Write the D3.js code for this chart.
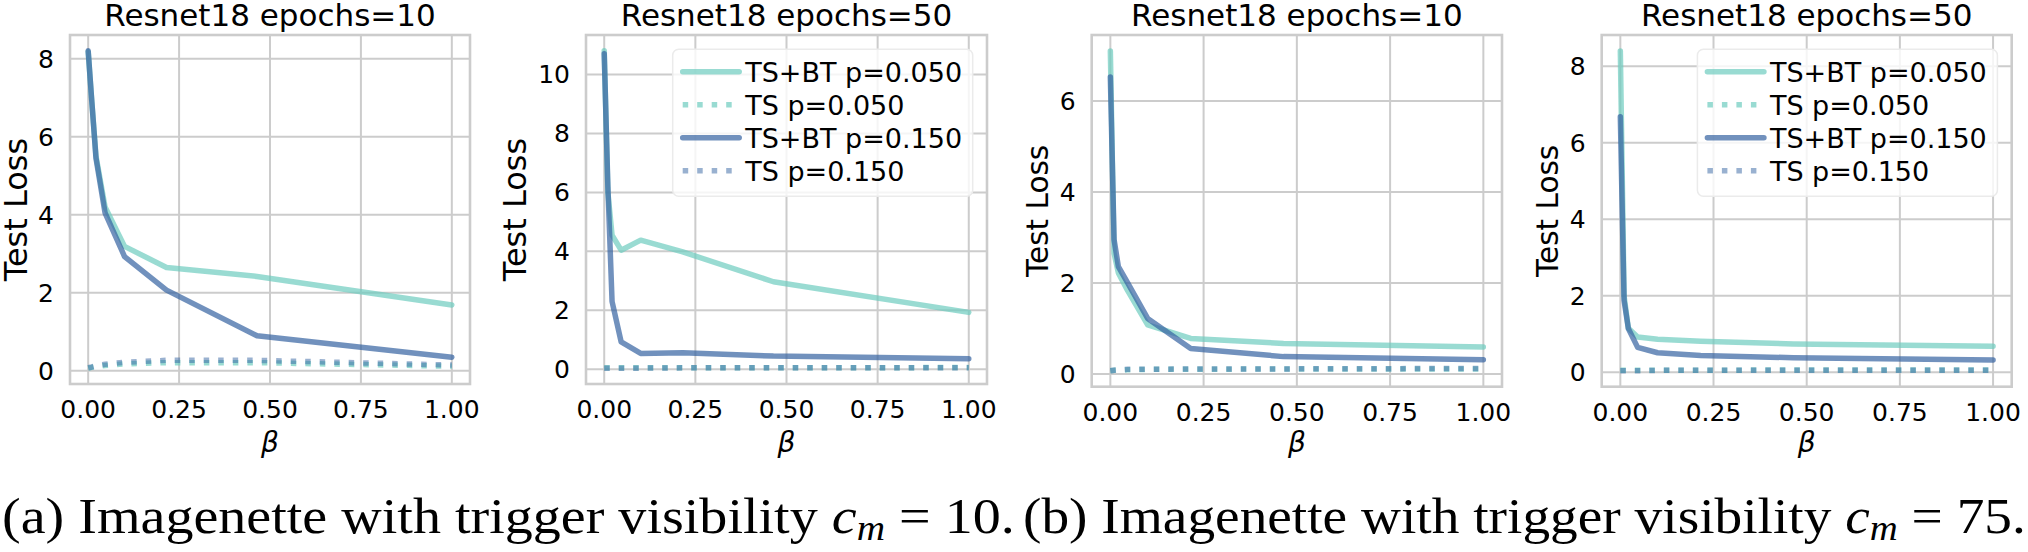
<!DOCTYPE html>
<html>
<head>
<meta charset="utf-8">
<script src="https://cdn.jsdelivr.net/npm/d3@7"></script>
<style>
  body { margin: 0; background: #fff; }
  svg text { font-family: "DejaVu Sans", sans-serif; fill: #000; }
  svg text.cap { font-family: "Liberation Serif", serif; }
</style>
</head>
<body>
<svg id="fig" width="2028" height="552"></svg>
<script>
/* ---------- data ---------- */
const beta   = [0, 0.01, 0.0215, 0.0464, 0.1, 0.2154, 0.4642, 1.0];
const xTicks = [0, 0.25, 0.5, 0.75, 1.0];

const seriesNames = ["TS+BT p=0.050", "TS p=0.050", "TS+BT p=0.150", "TS p=0.150"];

// (a) c_m = 10, epochs = 10
const tsbt05_a10 = [8.18, 6.9, 5.5, 4.2, 3.19, 2.65, 2.42, 1.69];
const ts05_a10   = [0.07, 0.09, 0.11, 0.14, 0.18, 0.21, 0.21, 0.12];
const tsbt15_a10 = [8.2, 6.9, 5.45, 4.05, 2.93, 2.07, 0.9, 0.35];
const ts15_a10   = [0.08, 0.1, 0.13, 0.17, 0.22, 0.27, 0.27, 0.15];
// (a) c_m = 10, epochs = 50
const tsbt05_a50 = [10.8, 6.0, 4.55, 4.04, 4.38, 3.98, 2.97, 1.93];
const ts05_a50   = [0.05, 0.05, 0.05, 0.05, 0.05, 0.05, 0.05, 0.06];
const tsbt15_a50 = [10.7, 6.2, 2.3, 0.93, 0.54, 0.56, 0.45, 0.36];
const ts15_a50   = [0.04, 0.04, 0.04, 0.04, 0.04, 0.05, 0.05, 0.05];
// (b) c_m = 75, epochs = 10
const tsbt05_b10 = [7.1, 2.65, 2.22, 1.83, 1.08, 0.78, 0.67, 0.59];
const ts05_b10   = [0.07, 0.08, 0.08, 0.09, 0.1, 0.1, 0.11, 0.11];
const tsbt15_b10 = [6.53, 2.95, 2.36, 2.0, 1.22, 0.56, 0.38, 0.31];
const ts15_b10   = [0.07, 0.08, 0.09, 0.1, 0.1, 0.11, 0.11, 0.12];
// (b) c_m = 75, epochs = 50
const tsbt05_b50 = [8.4, 2.0, 1.15, 0.92, 0.86, 0.81, 0.74, 0.68];
const ts05_b50   = [0.05, 0.05, 0.05, 0.05, 0.05, 0.05, 0.06, 0.06];
const tsbt15_b50 = [6.68, 1.88, 1.14, 0.65, 0.51, 0.44, 0.38, 0.32];
const ts15_b50   = [0.04, 0.04, 0.04, 0.04, 0.05, 0.05, 0.05, 0.05];

const yTicks_a10 = [0, 2, 4, 6, 8];
const yTicks_a50 = [0, 2, 4, 6, 8, 10];
const yTicks_b10 = [0, 2, 4, 6];
const yTicks_b50 = [0, 2, 4, 6, 8];

/* ---------- styling ---------- */
const styles = [
  { color: "#6dccbf", op: 0.7, dotted: false },
  { color: "#6dccbf", op: 0.7, dotted: true },
  { color: "#3463a1", op: 0.7, dotted: false },
  { color: "#3463a1", op: 0.5, dotted: true }
];
const GRID = "#cccccc";

const panels = [
  { title: "Resnet18 epochs=10", box: [70, 35, 470, 384],      yTicks: yTicks_a10,
    series: [tsbt05_a10, ts05_a10, tsbt15_a10, ts15_a10], legend: false, ylX: 27,     ylSize: 32 },
  { title: "Resnet18 epochs=50", box: [586, 35, 987, 384],     yTicks: yTicks_a50,
    series: [tsbt05_a50, ts05_a50, tsbt15_a50, ts15_a50], legend: true,  ylX: 526,    ylSize: 32 },
  { title: "Resnet18 epochs=10", box: [1091.7, 35, 1502, 386.7], yTicks: yTicks_b10,
    series: [tsbt05_b10, ts05_b10, tsbt15_b10, ts15_b10], legend: false, ylX: 1048.3, ylSize: 29.5 },
  { title: "Resnet18 epochs=50", box: [1601.7, 35, 2011.7, 386.7], yTicks: yTicks_b50,
    series: [tsbt05_b50, ts05_b50, tsbt15_b50, ts15_b50], legend: true,  ylX: 1558.3, ylSize: 29.5 }
];

const svg = d3.select("#fig");

function drawPanel(p) {
  const [x0, y0, x1, y1] = p.box;
  const g = svg.append("g");

  const x = d3.scaleLinear().domain([-0.05, 1.05]).range([x0, x1]);
  const all = p.series.flat();
  const lo = d3.min(all), hi = d3.max(all), pad = (hi - lo) * 0.05;
  const y = d3.scaleLinear().domain([lo - pad, hi + pad]).range([y1, y0]);

  // grid
  g.selectAll(".gx").data(xTicks).enter().append("line")
    .attr("x1", d => x(d)).attr("x2", d => x(d)).attr("y1", y0).attr("y2", y1)
    .attr("stroke", GRID).attr("stroke-width", 2);
  g.selectAll(".gy").data(p.yTicks).enter().append("line")
    .attr("y1", d => y(d)).attr("y2", d => y(d)).attr("x1", x0).attr("x2", x1)
    .attr("stroke", GRID).attr("stroke-width", 2);

  // spines
  g.append("rect").attr("x", x0).attr("y", y0).attr("width", x1 - x0).attr("height", y1 - y0)
    .attr("fill", "none").attr("stroke", GRID).attr("stroke-width", 2.6);

  // tick labels
  g.selectAll(".tx").data(xTicks).enter().append("text")
    .attr("x", d => x(d)).attr("y", y1 + 34).attr("text-anchor", "middle")
    .style("font-size", "25px").text(d3.format(".2f"));
  g.selectAll(".ty").data(p.yTicks).enter().append("text")
    .attr("x", x0 - 16).attr("y", d => y(d) + 9).attr("text-anchor", "end")
    .style("font-size", "25px").text(d => d);

  // lines
  const line = d3.line().x((d, i) => x(beta[i])).y(d => y(d));
  p.series.forEach((s, k) => {
    const st = styles[k];
    g.append("path").datum(s).attr("d", line)
      .attr("fill", "none").attr("stroke", st.color).attr("stroke-opacity", st.op)
      .attr("stroke-width", 5.5)
      .attr("stroke-linecap", st.dotted ? "butt" : "round")
      .attr("stroke-linejoin", "round")
      .attr("stroke-dasharray", st.dotted ? "5.5,9" : null);
  });

  // title & labels
  g.append("text").attr("x", (x0 + x1) / 2).attr("y", 26).attr("text-anchor", "middle")
    .style("font-size", "31px").text(p.title);
  g.append("text").attr("transform", `translate(${p.ylX},${(y0 + y1) / 2}) rotate(-90)`)
    .attr("text-anchor", "middle").style("font-size", p.ylSize + "px").text("Test Loss");
  g.append("text").attr("x", (x0 + x1) / 2).attr("y", 452).attr("text-anchor", "middle")
    .style("font-size", "28px").style("font-style", "italic").text("β");

  if (p.legend) {
    const lw = 300, lh = 147;
    const lx = x1 - 14.3 - lw, ly = y0 + 14.3;
    const lg = g.append("g");
    lg.append("rect").attr("x", lx).attr("y", ly).attr("width", lw).attr("height", lh)
      .attr("rx", 6).attr("fill", "#fff").attr("fill-opacity", 0.8)
      .attr("stroke", "#ebebeb").attr("stroke-width", 1.5);
    seriesNames.forEach((name, k) => {
      const st = styles[k];
      const ry = ly + 22.5 + k * 33;
      lg.append("line").attr("x1", lx + 10).attr("x2", lx + 66.5).attr("y1", ry).attr("y2", ry)
        .attr("stroke", st.color).attr("stroke-opacity", st.op).attr("stroke-width", 5.5)
        .attr("stroke-linecap", st.dotted ? "butt" : "round")
        .attr("stroke-dasharray", st.dotted ? "5.5,9" : null);
      lg.append("text").attr("x", lx + 72.5).attr("y", ry + 10)
        .style("font-size", "27px").text(name);
    });
  }
}

panels.forEach(drawPanel);

/* ---------- sub-captions ---------- */
const captions = [
  { label: "(a) Imagenette with trigger visibility ", value: "10.", left: 2,    right: 1015 },
  { label: "(b) Imagenette with trigger visibility ", value: "75.", left: 1023, right: 2026 }
];
captions.forEach(c => {
  const t = svg.append("text").attr("class", "cap").attr("x", 0).attr("y", 533)
    .style("font-size", "50px");
  t.append("tspan").text(c.label);
  t.append("tspan").style("font-style", "italic").text("c");
  t.append("tspan").style("font-style", "italic").style("font-size", "35px").attr("dy", 7).text("m");
  t.append("tspan").attr("dy", -7).text(" = " + c.value);
  const bb = t.node().getBBox();
  const sx = (c.right - c.left) / bb.width;
  t.attr("transform", `translate(${c.left - bb.x * sx},0) scale(${sx},1)`);
});
</script>
</body>
</html>
